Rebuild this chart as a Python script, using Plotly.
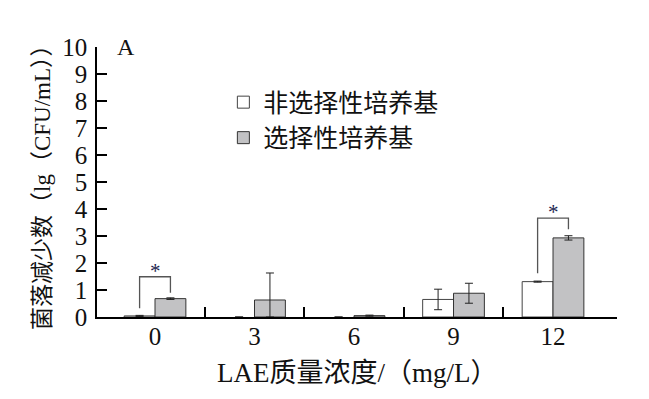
import plotly.graph_objects as go

categories = ["0", "3", "6", "9", "12"]
nonselective = [0.04, 0.0, 0.0, 0.65, 1.31]
nonselective_err = [0.02, 0.0, 0.0, 0.38, 0.02]
selective = [0.68, 0.63, 0.05, 0.88, 2.93]
selective_err_plus = [0.03, 1.0, 0.02, 0.37, 0.08]
selective_err_minus = [0.03, 0.63, 0.02, 0.37, 0.08]

# significance brackets: group index, left foot, top, right foot (y values)
sig_groups = [0, 4]
sig_left = [0.32, 1.62]
sig_top = [1.49, 3.66]
sig_right = [0.90, 3.25]

xtick_label = categories
y_ticks = list(range(0, 11))

SERIF = "Liberation Serif, Noto Sans CJK SC, serif"
bar_w = 0.31
xs = list(range(len(categories)))

fig = go.Figure()
fig.add_trace(go.Bar(
    x=xs, y=nonselective, name="非选择性培养基",
    marker=dict(color="white",
                line=dict(color=["rgba(0,0,0,0)" if v == 0 else "#444444" for v in nonselective],
                          width=[0 if v == 0 else 1 for v in nonselective])),
    error_y=dict(type="data", array=nonselective_err, color="#222222", thickness=1, width=4),
    width=bar_w, offset=-bar_w, legendgroup="a",
))
fig.add_trace(go.Bar(
    x=xs, y=selective, name="选择性培养基",
    marker=dict(color="#c2c2c4", line=dict(color="#333333", width=1)),
    error_y=dict(type="data", symmetric=False, array=selective_err_plus,
                 arrayminus=selective_err_minus, color="#222222", thickness=1, width=4),
    width=bar_w, offset=0, legendgroup="b",
))

for g, l, t, r in zip(sig_groups, sig_left, sig_top, sig_right):
    xl = g - bar_w / 2
    xr = g + bar_w / 2
    fig.add_trace(go.Scatter(
        x=[xl, xl, xr, xr], y=[l, t, t, r], mode="lines",
        line=dict(color="#555555", width=1.3), showlegend=False, hoverinfo="skip",
    ))
    fig.add_annotation(x=g, y=t, text="*", showarrow=False, yanchor="bottom",
                       yshift=-8, font=dict(family=SERIF, size=21, color="#1c2550"))

x_min, x_max = -0.583, 4.643

fig.update_layout(
    width=649, height=399,
    margin=dict(l=89, r=40, t=39, b=90),
    paper_bgcolor="white", plot_bgcolor="white",
    barmode="overlay",
    showlegend=True,
    legend=dict(x=0.243, y=0.88, xanchor="left", yanchor="top",
                font=dict(family=SERIF, size=25, color="#111111"),
                bgcolor="rgba(0,0,0,0)", tracegroupgap=0),
    xaxis=dict(range=[x_min, x_max], showline=True, linecolor="black", linewidth=1.5,
               tickvals=[0.5, 1.5, 2.5, 3.5, x_max], ticktext=["", "", "", "", ""],
               ticks="inside", ticklen=10, tickwidth=1.5, tickcolor="black",
               showgrid=False, zeroline=False, automargin=False),
    xaxis2=dict(range=[x_min, x_max], overlaying="x", side="bottom", anchor="y",
                tickvals=xs, ticktext=xtick_label, ticks="", showline=False,
                showgrid=False, zeroline=False, automargin=False, ticklabelstandoff=2,
                tickfont=dict(family=SERIF, size=25, color="#111111")),
    yaxis=dict(range=[0, 10], tickvals=y_ticks, showline=True, linecolor="black", linewidth=1.5,
               ticks="inside", ticklen=10, tickwidth=1.5, tickcolor="black",
               showgrid=False, zeroline=False, automargin=False, ticklabelstandoff=3,
               tickfont=dict(family=SERIF, size=25, color="#111111")),
)
# dummy trace to render the label axis
fig.add_trace(go.Scatter(x=[0], y=[0], xaxis="x2", mode="markers",
                         marker=dict(opacity=0), showlegend=False, hoverinfo="skip"))

fig.add_annotation(x=0.5, y=0, xref="paper", yref="paper", yshift=-56,
                   text="LAE质量浓度/（mg/L）", showarrow=False,
                   xanchor="center", yanchor="middle",
                   font=dict(family=SERIF, size=27, color="#111111"))
fig.add_annotation(x=0, y=0.5, xref="paper", yref="paper", xshift=-55,
                   text="菌落减少数（lg（CFU/mL））", showarrow=False, textangle=-90,
                   xanchor="center", yanchor="middle",
                   font=dict(family=SERIF, size=23, color="#111111"))

fig.add_annotation(x=0.055, y=1.0, xref="paper", yref="paper", text="A", showarrow=False,
                   xanchor="center", yanchor="middle",
                   font=dict(family=SERIF, size=24, color="#111111"))

fig.write_html("out.html")
